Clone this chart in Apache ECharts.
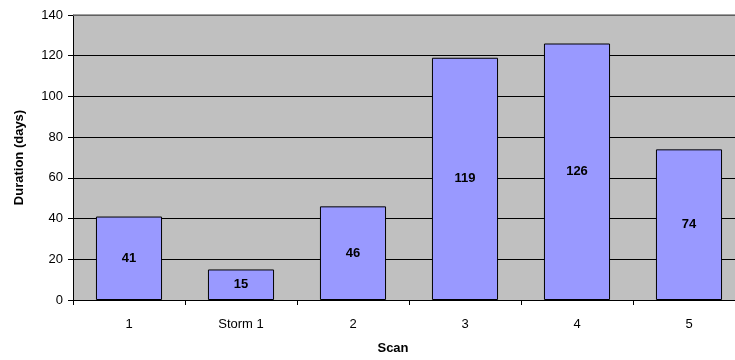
<!DOCTYPE html>
<html>
<head>
<meta charset="utf-8">
<script src="https://cdn.jsdelivr.net/npm/echarts@6/dist/echarts.min.js"></script>
<style>
html,body{margin:0;padding:0;background:#fff;overflow:hidden;}
#chart{width:760px;height:360px;}
</style>
</head>
<body>
<div id="chart"></div>
<script>
// Scan categories and their durations in days
var categories = ['1', 'Storm 1', '2', '3', '4', '5'];
var durations = [41, 15, 46, 119, 126, 74];
var yTicks = [0, 20, 40, 60, 80, 100, 120, 140];

var chart = echarts.init(document.getElementById('chart'), null, {renderer: 'canvas'});
var font = 'Liberation Sans, Arial, sans-serif';

chart.setOption({
  animation: false,
  grid: {
    left: 73, top: 15, right: 15, height: 285,
    show: true, backgroundColor: '#C0C0C0', borderWidth: 0
  },
  xAxis: {
    type: 'category',
    data: categories,
    boundaryGap: true,
    name: 'Scan',
    nameLocation: 'middle',
    nameGap: 42,
    nameTextStyle: {fontFamily: font, fontSize: 13, fontWeight: 'bold', color: '#000', padding: [0, 32, 0, 0]},
    axisLine: {show: true, lineStyle: {color: '#000', width: 1}},
    axisTick: {show: true, alignWithLabel: false, length: 5, lineStyle: {color: '#000'}},
    axisLabel: {fontFamily: font, fontSize: 13, color: '#000', margin: 18},
    splitLine: {show: false}
  },
  yAxis: {
    type: 'value',
    min: yTicks[0],
    max: yTicks[yTicks.length - 1],
    interval: 20,
    name: 'Duration (days)',
    nameLocation: 'middle',
    nameGap: 47,
    nameRotate: 90,
    nameTextStyle: {fontFamily: font, fontSize: 13, fontWeight: 'bold', color: '#000'},
    axisLine: {show: true, lineStyle: {color: '#000', width: 1}},
    axisTick: {show: true, length: 5, lineStyle: {color: '#000'}},
    axisLabel: {fontFamily: font, fontSize: 13, color: '#000', margin: 10},
    splitLine: {show: true, lineStyle: {color: '#000', width: 1}}
  },
  series: [{
    type: 'bar',
    data: durations,
    barWidth: '59%',
    itemStyle: {color: '#9999FF', borderColor: '#000', borderWidth: 1},
    label: {
      show: true,
      position: 'inside',
      fontFamily: font,
      fontSize: 13,
      fontWeight: 'bold',
      color: '#000'
    }
  }]
});

// Gray top border of the plot area
chart.setOption({
  graphic: [{
    type: 'line',
    shape: {x1: 73, y1: 15, x2: 745, y2: 15},
    style: {stroke: '#808080', lineWidth: 1.5},
    z: 100
  }]
});
</script>
</body>
</html>
